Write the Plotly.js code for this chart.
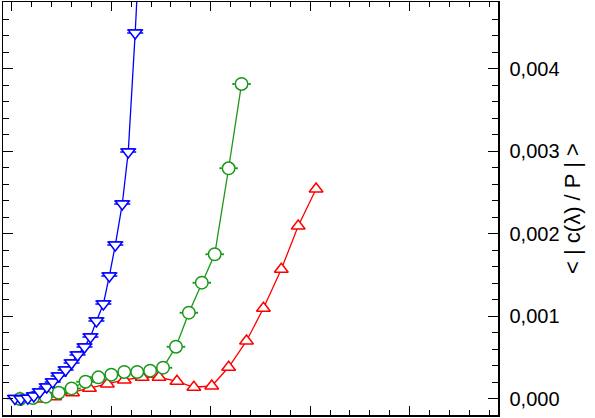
<!DOCTYPE html>
<html>
<head>
<meta charset="utf-8">
<script src="https://cdn.plot.ly/plotly-3.0.1.min.js"></script>
<style>
  html, body { margin: 0; padding: 0; background: #fff; }
  #chart { width: 595px; height: 418px; }
</style>
</head>
<body>
<div id="chart"></div>
<script>
// blue, open triangles pointing down
var xBlue = [0.03, 0.09, 0.16, 0.22, 0.28, 0.35, 0.41, 0.47, 0.54, 0.60, 0.66, 0.73, 0.79, 0.85, 0.92, 0.98, 1.04, 1.11, 1.17, 1.24, 1.30];
var yBlue = [0.000005, 0.0, 0.000010, 0.000036, 0.000085, 0.000145, 0.000206, 0.000278, 0.000351, 0.000436, 0.000533, 0.000630, 0.000751, 0.000944, 0.001150, 0.001489, 0.001864, 0.002361, 0.002990, 0.004431, 0.005900];

// green, open circles
var xGreen = [0.08, 0.21, 0.34, 0.47, 0.60, 0.74, 0.87, 1.00, 1.13, 1.26, 1.39, 1.52, 1.65, 1.78, 1.91, 2.04, 2.18, 2.31];
var yGreen = [0.0, 0.000012, 0.000028, 0.000076, 0.000128, 0.000209, 0.000262, 0.000294, 0.000327, 0.000327, 0.000343, 0.000379, 0.000633, 0.001045, 0.001408, 0.001752, 0.002793, 0.003814];

// red, open triangles pointing up
var xRed = [0.08, 0.26, 0.43, 0.61, 0.78, 0.96, 1.13, 1.31, 1.48, 1.66, 1.83, 2.01, 2.18, 2.36, 2.53, 2.71, 2.88, 3.06];
var yRed = [0.000006, 0.0, 0.000028, 0.000076, 0.000130, 0.000182, 0.000230, 0.000263, 0.000263, 0.000214, 0.000142, 0.000157, 0.000384, 0.000702, 0.001098, 0.001570, 0.002094, 0.002542];

var yTicks = [0, 0.001, 0.002, 0.003, 0.004];

var blue = '#0000ff', green = '#1a981a', red = '#ff0000';

var traceBlue = {
  x: xBlue, y: yBlue,
  mode: 'lines+markers',
  line: {color: blue, width: 1.3},
  marker: {symbol: 'triangle-down', size: 12, color: '#fff', line: {color: blue, width: 1.5}},
  error_y: {type: 'constant', symmetric: false, value: 0.000036, valueminus: 0, width: 8, thickness: 1.5, color: blue}
};

var traceGreen = {
  x: xGreen, y: yGreen,
  mode: 'lines+markers',
  line: {color: green, width: 1.3},
  marker: {symbol: 'circle', size: 12.5, color: '#fff', line: {color: green, width: 1.5}},
  error_x: {type: 'constant', value: 0.085, width: 1, thickness: 1.5, color: green}
};

var traceRed = {
  x: xRed, y: yRed,
  mode: 'lines+markers',
  line: {color: red, width: 1.3},
  marker: {symbol: 'triangle-up', size: 12, color: '#fff', line: {color: red, width: 1.5}}
};

var layout = {
  width: 595, height: 418,
  margin: {l: 3, r: 97, t: 2, b: 3},
  paper_bgcolor: '#fff', plot_bgcolor: '#fff',
  showlegend: false,
  separators: ', ',
  font: {family: 'Liberation Sans, Arial, sans-serif', size: 20, color: '#000'},
  xaxis: {
    range: [-0.09, 4.89],
    showgrid: false, zeroline: false,
    showline: true, linecolor: '#000', linewidth: 1.5, mirror: 'ticks',
    ticks: 'inside', ticklen: 9, tickwidth: 1, tickcolor: '#000',
    tick0: 0, dtick: 1,
    minor: {ticks: 'inside', ticklen: 5, tickwidth: 1, tickcolor: '#000', dtick: 0.2, tick0: 0, showgrid: false},
    showticklabels: false
  },
  yaxis: {
    side: 'right',
    range: [-0.000194, 0.004806],
    showgrid: false, zeroline: false,
    showline: true, linecolor: '#000', linewidth: 1.5, mirror: 'ticks',
    ticks: 'inside', ticklen: 10, tickwidth: 1, tickcolor: '#000',
    tickvals: yTicks, tickformat: '.3f', ticklabelstandoff: 6,
    minor: {ticks: 'inside', ticklen: 6, tickwidth: 1, tickcolor: '#000', dtick: 0.0002, tick0: 0, showgrid: false},
    title: {text: '< | c(λ) / P | >', font: {size: 22}, standoff: 6}
  }
};

Plotly.newPlot('chart', [traceRed, traceGreen, traceBlue], layout, {displayModeBar: false, staticPlot: true});
</script>
</body>
</html>
